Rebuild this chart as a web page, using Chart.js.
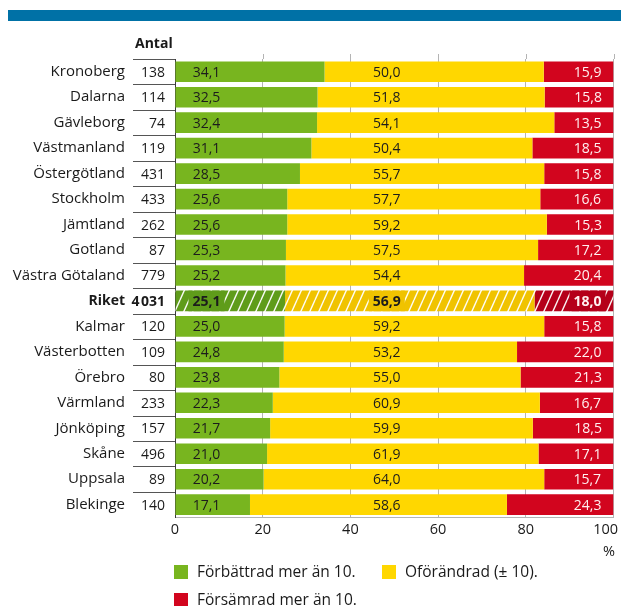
<!DOCTYPE html>
<html lang="sv">
<head>
<meta charset="utf-8">
<script src="https://cdn.jsdelivr.net/npm/chart.js@4"></script>
<style>
    body { margin: 0; background: #fff; }
    #wrap { position: relative; width: 621px; height: 606px; font-family: "Open Sans", sans-serif; color: #1a1a1a; }
    #band { position: absolute; left: 8px; top: 10px; width: 613px; height: 11px; background: #0071a6; }
    #antal { position: absolute; left: 135px; top: 33px; font-size: 14px; font-weight: bold; }
    #chart { position: absolute; left: 0; top: 0; }
    .leg { position: absolute; font-size: 15.5px; line-height: 16px; white-space: nowrap; }
    .leg i { display: inline-block; width: 14px; height: 14px; vertical-align: -2px; margin-right: 9px; }
</style>
</head>
<body>
<div id="wrap">
    <div id="band"></div>
    <canvas id="chart" width="621" height="606"></canvas>
    <div id="antal">Antal</div>
    <div id="legend"></div>
</div>
<script>
const regions = ["Kronoberg", "Dalarna", "Gävleborg", "Västmanland", "Östergötland", "Stockholm", "Jämtland", "Gotland", "Västra Götaland", "Riket", "Kalmar", "Västerbotten", "Örebro", "Värmland", "Jönköping", "Skåne", "Uppsala", "Blekinge"];
const antal = ["138", "114", "74", "119", "431", "433", "262", "87", "779", "4\u200A031", "120", "109", "80", "233", "157", "496", "89", "140"];
const forbattrad = [34.1, 32.5, 32.4, 31.1, 28.5, 25.6, 25.6, 25.3, 25.2, 25.1, 25.0, 24.8, 23.8, 22.3, 21.7, 21.0, 20.2, 17.1];
const oforandrad = [50.0, 51.8, 54.1, 50.4, 55.7, 57.7, 59.2, 57.5, 54.4, 56.9, 59.2, 53.2, 55.0, 60.9, 59.9, 61.9, 64.0, 58.6];
const forsamrad = [15.9, 15.8, 13.5, 18.5, 15.8, 16.6, 15.3, 17.2, 20.4, 18.0, 15.8, 22.0, 21.3, 16.7, 18.5, 17.1, 15.7, 24.3];
const xTicks = [0, 20, 40, 60, 80, 100];
const seriesNames = ["Förbättrad mer än 10.", "Oförändrad (± 10).", "Försämrad mer än 10."];

const seriesData = [forbattrad, oforandrad, forsamrad];
const seriesColors = ["#78b51f", "#ffd700", "#d2051e"];
const riketColors = ["#5f9c1a", "#f0c300", "#b5001a"];
const riketIndex = regions.indexOf("Riket");
const FONT = "'Open Sans', sans-serif";

// white diagonal stripes on top of a base colour
function hatch(base) {
    const c = document.createElement("canvas");
    c.width = 9;
    c.height = 20;
    const g = c.getContext("2d");
    g.fillStyle = base;
    g.fillRect(0, 0, 9, 20);
    g.strokeStyle = "rgba(255,255,255,0.95)";
    g.lineWidth = 1.4;
    g.beginPath();
    g.moveTo(0, 20);
    g.lineTo(9, 0);
    g.moveTo(-9, 20);
    g.lineTo(0, 0);
    g.moveTo(9, 20);
    g.lineTo(18, 0);
    g.stroke();
    return g.createPattern(c, "repeat");
}

function fmt(v) {
    return v.toFixed(1).replace(".", ",");
}

const extras = {
    id: "extras",
    beforeDatasetsDraw(chart) {
        const ctx = chart.ctx;
        const area = chart.chartArea;
        const x = chart.scales.x;
        ctx.save();
        ctx.strokeStyle = "#b4b4b4";
        ctx.lineWidth = 1;
        xTicks.forEach((v) => {
            if (v === 0) return;
            const px = Math.round(x.getPixelForValue(v)) + 0.5;
            ctx.beginPath();
            ctx.moveTo(px, area.top - 5);
            ctx.lineTo(px, area.top);
            ctx.stroke();
        });
        ctx.restore();
    },
    afterDatasetsDraw(chart) {
        const ctx = chart.ctx;
        const x = chart.scales.x;
        ctx.save();
        ctx.textBaseline = "middle";
        seriesData.forEach((data, s) => {
            const meta = chart.getDatasetMeta(s);
            meta.data.forEach((bar, i) => {
                const bold = i === riketIndex;
                ctx.font = (bold ? "bold " : "") + "14px " + FONT;
                const text = fmt(data[i]);
                const w = ctx.measureText(text).width;
                let cx;
                if (s === 0) cx = bar.base + 31;
                else if (s === 1) cx = x.getPixelForValue(48.3);
                else cx = bar.x - 12 - w / 2;
                if (bold) {
                    ctx.fillStyle = riketColors[s];
                    ctx.fillRect(cx - w / 2 - 4, bar.y - bar.height / 2, w + 8, bar.height);
                }
                ctx.textAlign = "center";
                ctx.fillStyle = s === 2 ? "#fff0f0" : "#1c1c1c";
                ctx.fillText(text, cx, bar.y + 1);
            });
        });
        ctx.restore();
    },
    afterDraw(chart) {
        const ctx = chart.ctx;
        const area = chart.chartArea;
        const x = chart.scales.x;
        const y = chart.scales.y;
        const pitch = y.getPixelForValue(1) - y.getPixelForValue(0);
        ctx.save();

        // separators and counts in the Antal column
        ctx.strokeStyle = "#555";
        ctx.lineWidth = 1;
        regions.forEach((r, i) => {
            const top = Math.round(y.getPixelForValue(i) - pitch / 2) + 0.5;
            ctx.beginPath();
            ctx.moveTo(133, top);
            ctx.lineTo(area.left, top);
            ctx.stroke();
        });
        ctx.textAlign = "right";
        ctx.textBaseline = "middle";
        ctx.fillStyle = "#1a1a1a";
        antal.forEach((n, i) => {
            ctx.font = (i === riketIndex ? "bold " : "") + "14px " + FONT;
            ctx.fillText(n, 165, y.getPixelForValue(i) + 1);
        });

        // x tick labels
        ctx.font = "14.5px " + FONT;
        ctx.textAlign = "center";
        xTicks.forEach((v) => {
            const label = String(v);
            const w = ctx.measureText(label).width;
            const px = Math.min(x.getPixelForValue(v), chart.width - w / 2 - 3);
            ctx.fillText(label, px, area.bottom + 12);
        });
        ctx.textAlign = "right";
        ctx.fillText("%", 615, area.bottom + 34);
        ctx.restore();
    }
};

new Chart(document.getElementById("chart"), {
    type: "bar",
    data: {
        labels: regions,
        datasets: seriesNames.map((name, s) => ({
            label: name,
            data: seriesData[s],
            backgroundColor: regions.map((r, i) => (i === riketIndex ? hatch(riketColors[s]) : seriesColors[s])),
            borderWidth: 0,
            barPercentage: 0.81,
            categoryPercentage: 1
        }))
    },
    options: {
        indexAxis: "y",
        responsive: false,
        animation: false,
        layout: {
            padding: { top: 53, right: 7.5, bottom: 88.6, left: 0 }
        },
        plugins: {
            legend: { display: false },
            tooltip: { enabled: false }
        },
        scales: {
            x: {
                stacked: true,
                min: 0,
                max: 100,
                afterBuildTicks: (scale) => {
                    scale.ticks = xTicks.map((v) => ({ value: v }));
                },
                ticks: { display: false },
                grid: { color: "#b4b4b4", drawTicks: false },
                border: { color: "#b4b4b4" }
            },
            y: {
                stacked: true,
                afterFit: (scale) => {
                    scale.width = 175;
                },
                ticks: {
                    padding: 50,
                    color: "#1a1a1a",
                    font: (c) => (c.index === riketIndex
                        ? { family: FONT, size: 14, weight: "bold" }
                        : { family: FONT, size: 15, weight: "normal" })
                },
                grid: { display: false, drawTicks: false },
                border: { color: "#3a3a3a", width: 1 }
            }
        }
    },
    plugins: [extras]
});

// legend below the chart
const legendPos = [[174, 563], [382, 563], [174, 591]];
document.getElementById("legend").innerHTML = seriesNames
    .map((name, s) => `<div class="leg" style="left:${legendPos[s][0]}px;top:${legendPos[s][1]}px"><i style="background:${seriesColors[s]}"></i>${name}</div>`)
    .join("");
</script>
</body>
</html>
